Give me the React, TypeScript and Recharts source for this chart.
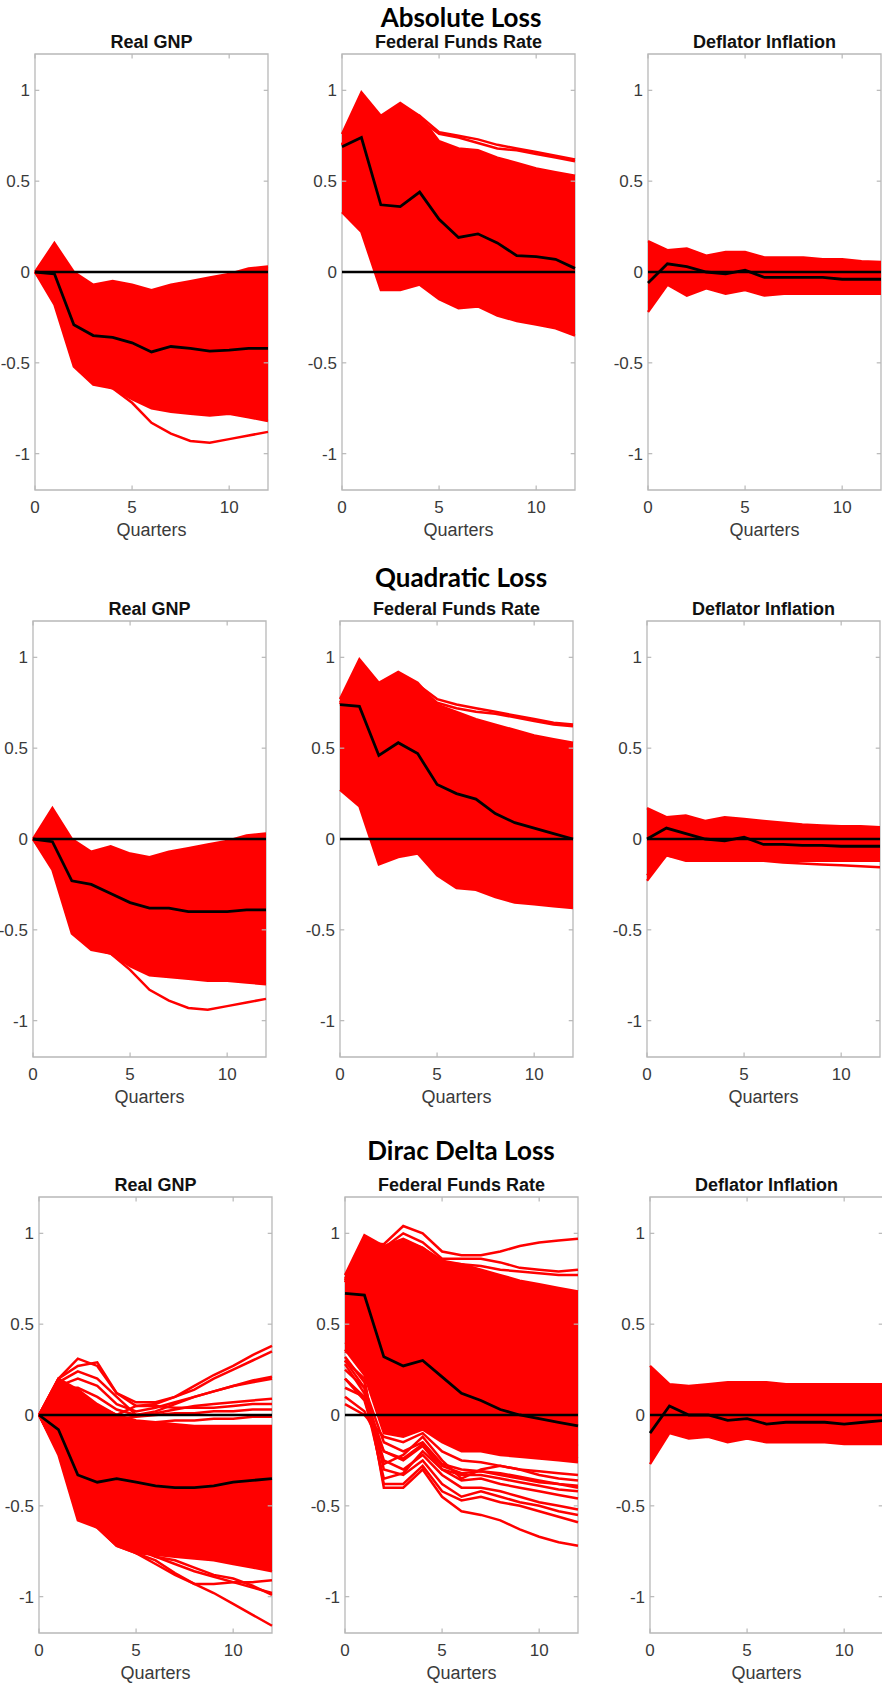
import React from "react"
import {
  ComposedChart,
  Area,
  Line,
  XAxis,
  YAxis,
  ReferenceArea,
  ReferenceLine,
} from "recharts"

const RED = "#ff0000"
const FRAME = "#b8b8b8"
const TICK = "#3a3a3a"
const SANS = "'Liberation Sans', Arial, Helvetica, sans-serif"

const QUARTERS = [0, 1, 2, 3, 4, 5, 6, 7, 8, 9, 10, 11, 12]
const X_TICKS = [0, 5, 10]
const Y_TICKS = [-1, -0.5, 0, 0.5, 1]

const SECTION_TITLES = ["Absolute Loss", "Quadratic Loss", "Dirac Delta Loss"]
const PANEL_TITLES = ["Real GNP", "Federal Funds Rate", "Deflator Inflation"]

// ---- Absolute loss ----
const gnpAbsMedian = [0, -0.01, -0.29, -0.35, -0.36, -0.39, -0.44, -0.41, -0.42, -0.435, -0.43, -0.42, -0.42]
const gnpAbsHigh = [0, 0.16, 0.0, -0.07, -0.05, -0.07, -0.1, -0.07, -0.05, -0.03, -0.01, 0.02, 0.03]
const gnpAbsLow = [0, -0.18, -0.52, -0.62, -0.64, -0.7, -0.75, -0.77, -0.78, -0.79, -0.78, -0.8, -0.82]
const gnpAbsOutliers = [
  [0, -0.15, -0.5, -0.6, -0.64, -0.72, -0.83, -0.89, -0.93, -0.94, -0.92, -0.9, -0.88],
]

const ffrAbsMedian = [0.69, 0.74, 0.37, 0.36, 0.44, 0.29, 0.19, 0.21, 0.16, 0.09, 0.085, 0.07, 0.02]
const ffrAbsHigh = [0.76, 0.99, 0.86, 0.93, 0.86, 0.72, 0.68, 0.67, 0.63, 0.6, 0.57, 0.55, 0.53]
const ffrAbsLow = [0.33, 0.22, -0.1, -0.1, -0.07, -0.15, -0.2, -0.19, -0.24, -0.27, -0.29, -0.31, -0.35]
const ffrAbsOutliers = [
  [0.7, 0.9, 0.84, 0.9, 0.86, 0.77, 0.75, 0.73, 0.7, 0.68, 0.66, 0.64, 0.62],
  [0.7, 0.9, 0.84, 0.88, 0.84, 0.76, 0.74, 0.71, 0.68, 0.67, 0.65, 0.63, 0.61],
]

const defAbsMedian = [-0.06, 0.045, 0.03, 0.0, -0.01, 0.01, -0.03, -0.03, -0.03, -0.03, -0.04, -0.04, -0.04]
const defAbsHigh = [0.17, 0.12, 0.13, 0.09, 0.11, 0.11, 0.08, 0.08, 0.08, 0.07, 0.07, 0.06, 0.055]
const defAbsLow = [-0.22, -0.07, -0.13, -0.09, -0.12, -0.1, -0.13, -0.12, -0.12, -0.12, -0.12, -0.12, -0.12]

// ---- Quadratic loss ----
const gnpQuadMedian = [0, -0.015, -0.23, -0.25, -0.3, -0.35, -0.38, -0.38, -0.4, -0.4, -0.4, -0.39, -0.39]
const gnpQuadHigh = [0, 0.17, 0.0, -0.07, -0.04, -0.08, -0.1, -0.07, -0.05, -0.03, -0.01, 0.02, 0.03]
const gnpQuadLow = [0, -0.17, -0.52, -0.61, -0.63, -0.7, -0.75, -0.76, -0.77, -0.78, -0.78, -0.79, -0.8]
const gnpQuadOutliers = [
  [0, -0.15, -0.5, -0.6, -0.63, -0.72, -0.83, -0.89, -0.93, -0.94, -0.92, -0.9, -0.88],
]

const ffrQuadMedian = [0.74, 0.73, 0.46, 0.53, 0.47, 0.3, 0.25, 0.22, 0.14, 0.09, 0.06, 0.03, 0.0]
const ffrQuadHigh = [0.77, 0.99, 0.86, 0.92, 0.86, 0.74, 0.7, 0.66, 0.63, 0.6, 0.57, 0.55, 0.53]
const ffrQuadLow = [0.27, 0.18, -0.14, -0.1, -0.08, -0.2, -0.27, -0.28, -0.32, -0.35, -0.36, -0.37, -0.38]
const ffrQuadOutliers = [
  [0.75, 0.92, 0.85, 0.91, 0.85, 0.77, 0.74, 0.72, 0.7, 0.68, 0.66, 0.64, 0.63],
  [0.74, 0.9, 0.84, 0.89, 0.84, 0.75, 0.72, 0.7, 0.69, 0.67, 0.65, 0.63, 0.62],
]

const defQuadMedian = [0, 0.06, 0.03, 0.0, -0.01, 0.01, -0.03, -0.03, -0.035, -0.035, -0.04, -0.04, -0.04]
const defQuadHigh = [0.17, 0.12, 0.13, 0.1, 0.12, 0.11, 0.1, 0.09, 0.08, 0.075, 0.07, 0.07, 0.065]
const defQuadLow = [-0.23, -0.09, -0.12, -0.12, -0.12, -0.12, -0.12, -0.12, -0.12, -0.12, -0.12, -0.12, -0.12]
const defQuadOutliers = [
  [-0.2, -0.09, -0.11, -0.11, -0.11, -0.12, -0.12, -0.13, -0.135, -0.14, -0.145, -0.15, -0.155],
]

// ---- Dirac delta loss ----
const gnpDiracMedian = [0, -0.08, -0.33, -0.37, -0.35, -0.37, -0.39, -0.4, -0.4, -0.39, -0.37, -0.36, -0.35]
const gnpDiracHigh = [0, 0.2, 0.14, 0.06, 0.0, -0.03, -0.04, -0.05, -0.06, -0.06, -0.06, -0.06, -0.06]
const gnpDiracLow = [0, -0.22, -0.58, -0.62, -0.72, -0.76, -0.77, -0.78, -0.79, -0.8, -0.82, -0.84, -0.86]
const gnpDiracOutliers = [
  [0, 0.2, 0.31, 0.27, 0.12, 0.07, 0.07, 0.1, 0.16, 0.22, 0.27, 0.33, 0.38],
  [0, 0.2, 0.27, 0.29, 0.12, 0.05, 0.06, 0.1, 0.14, 0.2, 0.25, 0.3, 0.35],
  [0, 0.18, 0.24, 0.2, 0.1, 0.0, 0.02, 0.06, 0.1, 0.13, 0.16, 0.19, 0.21],
  [0, 0.16, 0.2, 0.16, 0.06, 0.02, 0.04, 0.07, 0.1, 0.13, 0.16, 0.18, 0.2],
  [0, 0.15, 0.15, 0.1, 0.03, 0.0, 0.01, 0.03, 0.05, 0.06, 0.07, 0.08, 0.09],
  [0, 0.12, 0.1, 0.05, 0.0, 0.05, 0.05, 0.04, 0.04, 0.04, 0.05, 0.06, 0.06],
  [0, 0.1, 0.05, 0.0, -0.02, -0.01, 0.0, 0.01, 0.01, 0.02, 0.02, 0.03, 0.03],
  [0, 0.05, -0.02, -0.04, -0.04, -0.05, -0.04, -0.03, -0.03, -0.02, -0.02, -0.01, -0.01],
  [0, -0.2, -0.55, -0.62, -0.72, -0.76, -0.82, -0.88, -0.93, -0.98, -1.04, -1.1, -1.16],
  [0, -0.2, -0.55, -0.6, -0.7, -0.76, -0.8, -0.87, -0.93, -0.93, -0.92, -0.92, -0.91],
  [0, -0.2, -0.5, -0.58, -0.65, -0.72, -0.78, -0.82, -0.86, -0.89, -0.92, -0.95, -0.98],
  [0, -0.2, -0.52, -0.6, -0.68, -0.74, -0.78, -0.8, -0.84, -0.88, -0.9, -0.94, -0.99],
]

const ffrDiracMedian = [0.67, 0.66, 0.32, 0.27, 0.3, 0.21, 0.12, 0.08, 0.03, 0.0, -0.02, -0.04, -0.06]
const ffrDiracHigh = [0.77, 0.99, 0.93, 0.97, 0.92, 0.85, 0.83, 0.8, 0.77, 0.74, 0.72, 0.7, 0.68]
const ffrDiracLow = [0.36, 0.22, -0.1, -0.12, -0.08, -0.15, -0.2, -0.2, -0.22, -0.23, -0.24, -0.25, -0.26]
const ffrDiracOutliers = [
  [0.75, 0.95, 0.94, 1.04, 1.0, 0.9, 0.88, 0.88, 0.9, 0.93, 0.95, 0.96, 0.97],
  [0.74, 0.94, 0.92, 1.0, 0.95, 0.86, 0.86, 0.86, 0.84, 0.81, 0.8, 0.79, 0.8],
  [0.73, 0.93, 0.9, 0.96, 0.92, 0.84, 0.83, 0.82, 0.8, 0.79, 0.78, 0.77, 0.77],
  [0.3, 0.2, -0.4, -0.4, -0.3, -0.45, -0.53, -0.55, -0.58, -0.63, -0.67, -0.7, -0.72],
  [0.25, 0.15, -0.38, -0.38, -0.28, -0.42, -0.47, -0.45, -0.48, -0.5, -0.53, -0.56, -0.59],
  [0.32, 0.18, -0.3, -0.33, -0.25, -0.38, -0.45, -0.42, -0.45, -0.48, -0.5, -0.53, -0.55],
  [0.2, 0.1, -0.25, -0.3, -0.22, -0.33, -0.4, -0.4, -0.42, -0.45, -0.48, -0.5, -0.52],
  [0.15, 0.1, -0.35, -0.32, -0.2, -0.3, -0.36, -0.35, -0.38, -0.4, -0.42, -0.44, -0.46],
  [0.28, 0.12, -0.2, -0.25, -0.17, -0.3, -0.33, -0.33, -0.35, -0.37, -0.39, -0.41, -0.42],
  [0.3, 0.15, -0.15, -0.2, -0.15, -0.27, -0.3, -0.31, -0.32, -0.34, -0.36, -0.38, -0.39],
  [0.2, 0.08, -0.27, -0.22, -0.12, -0.25, -0.35, -0.3, -0.28, -0.3, -0.33, -0.35, -0.36],
  [0.1, 0.02, -0.2, -0.24, -0.16, -0.28, -0.32, -0.31, -0.33, -0.35, -0.37, -0.38, -0.4],
  [0.06, 0.0, -0.12, -0.15, -0.1, -0.2, -0.25, -0.26, -0.28, -0.3, -0.31, -0.32, -0.33],
  [0.35, 0.3, 0.05, -0.05, 0.0, -0.08, -0.12, -0.14, -0.16, -0.18, -0.2, -0.22, -0.24],
  [0.4, 0.35, 0.1, 0.05, 0.08, 0.0, -0.05, -0.07, -0.09, -0.11, -0.13, -0.15, -0.17],
]

const defDiracMedian = [-0.1, 0.05, 0.0, 0.0, -0.03, -0.02, -0.05, -0.04, -0.04, -0.04, -0.05, -0.04, -0.03]
const defDiracHigh = [0.27, 0.17, 0.16, 0.17, 0.18, 0.18, 0.18, 0.17, 0.17, 0.17, 0.17, 0.17, 0.17]
const defDiracLow = [-0.27, -0.1, -0.13, -0.12, -0.15, -0.13, -0.15, -0.15, -0.15, -0.15, -0.16, -0.16, -0.16]

// plot-box geometry (page pixels)
const PLOT_W = 233
const PLOT_H = 436
const Y_W = 40
const M_TOP = 10
const M_RIGHT = 10
const X_H = 34
// inward tick length, in data units
const TICK_DY = 0.025
const TICK_DX = 0.22

type PanelProps = {
  left: number
  top: number
  title: string
  median: number[]
  low: number[]
  high: number[]
  outliers?: number[][]
}

function Panel({ left, top, title, median, low, high, outliers = [] }: PanelProps) {
  const rows = QUARTERS.map((q, i) => {
    const r: Record<string, any> = { q, band: [low[i], high[i]], median: median[i] }
    outliers.forEach((s, j) => (r["o" + j] = s[i]))
    return r
  })
  return (
    <>
      <div style={{ position: "absolute", left: left - Y_W, top: top - M_TOP }}>
        <ComposedChart
          width={Y_W + PLOT_W + M_RIGHT}
          height={M_TOP + PLOT_H + X_H}
          data={rows}
          margin={{ top: M_TOP, right: M_RIGHT, bottom: 0, left: 0 }}
        >
          <XAxis
            dataKey="q"
            type="number"
            domain={[0, 12]}
            ticks={X_TICKS}
            axisLine={false}
            tickLine={false}
            tickSize={3}
            tickMargin={8}
            height={X_H}
            tick={{ fontSize: 17, fill: TICK, fontFamily: SANS }}
          />
          <YAxis
            type="number"
            domain={[-1.2, 1.2]}
            ticks={Y_TICKS}
            width={Y_W}
            axisLine={false}
            tickLine={false}
            tickSize={3}
            tickMargin={2}
            tick={{ fontSize: 17, fill: TICK, fontFamily: SANS }}
          />
          <ReferenceArea x1={0} x2={12} y1={-1.2} y2={1.2} fill="none" stroke={FRAME} strokeWidth={1.3} />
          {X_TICKS.map((t) => (
            <ReferenceLine key={"xb" + t} segment={[{ x: t, y: -1.2 }, { x: t, y: -1.2 + TICK_DY }]} stroke={FRAME} strokeWidth={1.2} />
          ))}
          {X_TICKS.map((t) => (
            <ReferenceLine key={"xt" + t} segment={[{ x: t, y: 1.2 }, { x: t, y: 1.2 - TICK_DY }]} stroke={FRAME} strokeWidth={1.2} />
          ))}
          {Y_TICKS.map((t) => (
            <ReferenceLine key={"yl" + t} segment={[{ x: 0, y: t }, { x: TICK_DX, y: t }]} stroke={FRAME} strokeWidth={1.2} />
          ))}
          {Y_TICKS.map((t) => (
            <ReferenceLine key={"yr" + t} segment={[{ x: 12, y: t }, { x: 12 - TICK_DX, y: t }]} stroke={FRAME} strokeWidth={1.2} />
          ))}
          <Area
            dataKey="band"
            type="linear"
            stroke={RED}
            strokeWidth={2.4}
            fill={RED}
            fillOpacity={1}
            isAnimationActive={false}
          />
          {outliers.map((_, j) => (
            <Line
              key={j}
              dataKey={"o" + j}
              type="linear"
              stroke={RED}
              strokeWidth={2.5}
              dot={false}
              isAnimationActive={false}
            />
          ))}
          <ReferenceLine y={0} stroke="#000" strokeWidth={2.6} />
          <Line
            dataKey="median"
            type="linear"
            stroke="#000"
            strokeWidth={2.8}
            dot={false}
            isAnimationActive={false}
          />
        </ComposedChart>
      </div>
      <div
        style={{
          position: "absolute",
          left,
          top: top - 24,
          width: PLOT_W,
          height: 24,
          lineHeight: "24px",
          textAlign: "center",
          fontFamily: SANS,
          fontWeight: "bold",
          fontSize: 18,
          color: "#111",
          whiteSpace: "nowrap",
        }}
      >
        {title}
      </div>
      <div
        style={{
          position: "absolute",
          left,
          top: top + PLOT_H + 28,
          width: PLOT_W,
          height: 24,
          lineHeight: "24px",
          textAlign: "center",
          fontFamily: SANS,
          fontSize: 18,
          color: TICK,
        }}
      >
        Quarters
      </div>
    </>
  )
}

const ROWS = [
  { top: 54, lefts: [35, 342, 648], titleY: 17 },
  { top: 621, lefts: [33, 340, 647], titleY: 577 },
  { top: 1197, lefts: [39, 345, 650], titleY: 1150 },
]

const PANELS = [
  [
    { median: gnpAbsMedian, low: gnpAbsLow, high: gnpAbsHigh, outliers: gnpAbsOutliers },
    { median: ffrAbsMedian, low: ffrAbsLow, high: ffrAbsHigh, outliers: ffrAbsOutliers },
    { median: defAbsMedian, low: defAbsLow, high: defAbsHigh },
  ],
  [
    { median: gnpQuadMedian, low: gnpQuadLow, high: gnpQuadHigh, outliers: gnpQuadOutliers },
    { median: ffrQuadMedian, low: ffrQuadLow, high: ffrQuadHigh, outliers: ffrQuadOutliers },
    { median: defQuadMedian, low: defQuadLow, high: defQuadHigh, outliers: defQuadOutliers },
  ],
  [
    { median: gnpDiracMedian, low: gnpDiracLow, high: gnpDiracHigh, outliers: gnpDiracOutliers },
    { median: ffrDiracMedian, low: ffrDiracLow, high: ffrDiracHigh, outliers: ffrDiracOutliers },
    { median: defDiracMedian, low: defDiracLow, high: defDiracHigh },
  ],
]

export default function App() {
  return (
    <div
      style={{
        position: "absolute",
        left: 0,
        top: 0,
        width: 882,
        height: 1689,
        overflow: "hidden",
        background: "#fff",
      }}
    >
      {ROWS.map((row, r) => (
        <React.Fragment key={r}>
          <div
            style={{
              position: "absolute",
              left: 261,
              top: row.titleY - 18,
              width: 400,
              height: 36,
              lineHeight: "36px",
              textAlign: "center",
              fontFamily: "Lato, 'Open Sans', sans-serif",
              fontWeight: "bold",
              fontSize: 26,
              color: "#000",
            }}
          >
            {SECTION_TITLES[r]}
          </div>
          {PANELS[r].map((p, c) => (
            <Panel key={c} left={row.lefts[c]} top={row.top} title={PANEL_TITLES[c]} {...p} />
          ))}
        </React.Fragment>
      ))}
    </div>
  )
}
